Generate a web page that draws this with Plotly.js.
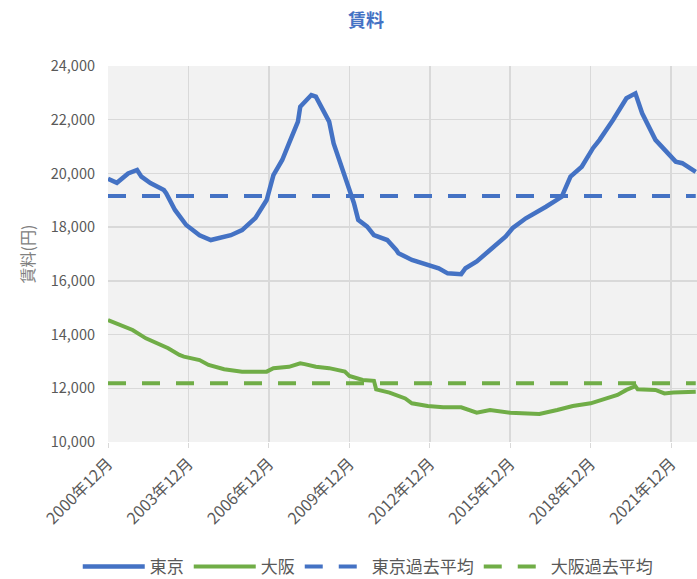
<!DOCTYPE html>
<html>
<head>
<meta charset="utf-8">
<script src="https://cdn.plot.ly/plotly-3.0.1.min.js"></script>
<style>html,body{margin:0;padding:0;background:#fff;}#chart{width:697px;height:579px;}</style>
</head>
<body>
<div id="chart"></div>
<script>
// Tokyo rent (yen)
const tokyoDates = ['2000-12','2001-04','2001-09','2002-01','2002-03','2002-07','2003-01','2003-02','2003-06','2003-11','2004-05','2004-10','2005-07','2005-12','2006-06','2006-11','2007-02','2007-06','2007-09','2008-01','2008-02','2008-07','2008-09','2008-12','2009-03','2009-05','2009-08','2009-10','2010-02','2010-04','2010-08','2010-11','2011-05','2011-09','2011-10','2012-04','2012-09','2013-04','2013-08','2014-02','2014-04','2014-09','2015-03','2015-10','2016-01','2016-07','2017-04','2017-11','2018-03','2018-08','2019-01','2019-04','2019-10','2020-01','2020-04','2020-08','2020-11','2021-05','2022-02','2022-05','2022-11'];
const tokyoValues = [19800,19650,20000,20130,19880,19640,19380,19260,18640,18080,17700,17520,17700,17890,18340,19010,19940,20500,21120,21930,22480,22920,22860,22360,21930,21120,20380,19760,18900,18270,18020,17700,17520,17150,17030,16780,16650,16470,16280,16250,16470,16720,17150,17650,17960,18330,18760,19130,19880,20250,20940,21250,21990,22430,22800,22980,22240,21250,20440,20380,20060];

// Osaka rent (yen)
const osakaDates = ['2000-12','2001-06','2001-11','2002-05','2002-10','2003-03','2003-08','2003-10','2004-05','2004-09','2005-04','2005-12','2006-11','2007-02','2007-09','2008-02','2008-04','2008-09','2009-03','2009-10','2009-12','2010-06','2010-11','2010-12','2011-06','2011-11','2012-01','2012-04','2012-11','2013-06','2014-02','2014-09','2015-03','2015-12','2016-11','2017-01','2017-09','2018-04','2018-12','2019-06','2019-12','2020-04','2020-08','2020-09','2021-05','2021-09','2022-01','2022-11'];
const osakaValues = [14540,14360,14170,13860,13680,13490,13240,13180,13050,12870,12710,12620,12620,12750,12800,12930,12900,12800,12750,12620,12460,12310,12280,11960,11840,11690,11620,11440,11340,11290,11290,11090,11190,11090,11070,11040,11190,11340,11440,11590,11750,11940,12080,11960,11940,11810,11840,11870];

const tokyoAvg = 19160;
const osakaAvg = 12190;
const avgDates = ['2000-12','2022-11'];

const tickVals = ['2000-12-01','2003-12-01','2006-12-01','2009-12-01','2012-12-01','2015-12-01','2018-12-01','2021-12-01'];
const tickText = ['2000年12月','2003年12月','2006年12月','2009年12月','2012年12月','2015年12月','2018年12月','2021年12月'];

const blue = '#4472C4', green = '#70AD47';
const traces = [
  {x: tokyoDates, y: tokyoValues, name: '東京', mode: 'lines', line: {color: blue, width: 4.5}},
  {x: osakaDates, y: osakaValues, name: '大阪', mode: 'lines', line: {color: green, width: 4}},
  {x: avgDates, y: [tokyoAvg, tokyoAvg], name: '東京過去平均', mode: 'lines', line: {color: blue, width: 4, dash: '18px,16px'}},
  {x: avgDates, y: [osakaAvg, osakaAvg], name: '大阪過去平均', mode: 'lines', line: {color: green, width: 4, dash: '18px,16px'}}
];

const font = "'Noto Sans CJK JP', 'Noto Sans', sans-serif";
const layout = {
  width: 697, height: 579,
  margin: {l: 108, r: 0, t: 66, b: 137},
  paper_bgcolor: '#ffffff',
  plot_bgcolor: '#f2f2f2',
  font: {family: font, color: '#595959', size: 14},
  title: {text: '<b>賃料</b>', font: {family: font, size: 18, color: blue}, x: 0.525, xanchor: 'center', y: 0.965, yanchor: 'middle'},
  xaxis: {
    type: 'date',
    automargin: false,
    range: ['2000-12-01', '2022-11-18'],
    tickvals: tickVals, ticktext: tickText,
    tickangle: -45,
    showgrid: true, gridcolor: '#d9d9d9', gridwidth: 1.5,
    ticks: 'outside', ticklen: 5, tickcolor: '#d9d9d9',
    showline: false, zeroline: false,
    tickfont: {size: 16, color: '#595959'}
  },
  yaxis: {
    automargin: false,
    range: [10000, 24000], dtick: 2000, tickformat: ',d',
    showgrid: true, gridcolor: '#d9d9d9', gridwidth: 1.5,
    zeroline: false, showline: false,
    ticklabelstandoff: 12,
    tickfont: {size: 14.5, color: '#595959'},
    title: {text: '賃料(円)', font: {size: 16, color: '#808080'}, standoff: 12}
  },
  showlegend: true,
  legend: {orientation: 'h', x: 0.441, xanchor: 'center', yref: 'container', y: 0.021, yanchor: 'middle', itemwidth: 62, font: {size: 17, color: '#595959'}, traceorder: 'normal'}
};

Plotly.newPlot('chart', traces, layout, {displayModeBar: false, staticPlot: true});
</script>
</body>
</html>
